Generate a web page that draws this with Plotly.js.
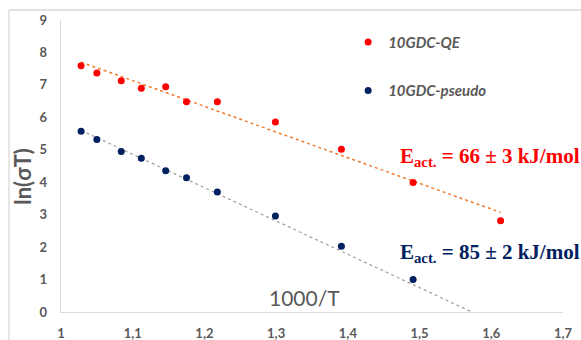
<!DOCTYPE html>
<html>
<head>
<meta charset="utf-8">
<script src="https://cdn.plot.ly/plotly-3.0.1.min.js"></script>
<style>html,body{margin:0;padding:0;background:#fff;}#chart{width:581px;height:340px;}</style>
</head>
<body>
<div id="chart"></div>
<script>
// Data
const invT = [1.028, 1.050, 1.084, 1.112, 1.146, 1.175, 1.218, 1.299, 1.391, 1.491, 1.613];
const lnQE = [7.59, 7.37, 7.13, 6.90, 6.94, 6.48, 6.48, 5.86, 5.02, 3.99, 2.81];
const invTpseudo = [1.028, 1.050, 1.084, 1.112, 1.146, 1.175, 1.218, 1.299, 1.391, 1.491];
const lnPseudo = [5.57, 5.32, 4.95, 4.74, 4.35, 4.14, 3.70, 2.96, 2.03, 1.00];
// Trendline end points
const trendQEx = [1.028, 1.613];
const trendQEy = [7.70, 3.07];
const trendPsx = [1.028, 1.573];
const trendPsy = [5.60, 0.0];
const seriesNames = ["10GDC-QE", "10GDC-pseudo"];
const xTicks = [1, 1.1, 1.2, 1.3, 1.4, 1.5, 1.6, 1.7];
const xTickText = ["1", "1,1", "1,2", "1,3", "1,4", "1,5", "1,6", "1,7"];
const yTicks = [0, 1, 2, 3, 4, 5, 6, 7, 8, 9];

const RED = "#FF0000", NAVY = "#002060", GREY = "#595959";

const traces = [
  {x: trendQEx, y: trendQEy, mode: "lines", line: {color: "#ED7D31", width: 1.5, dash: "dot"}, showlegend: false, hoverinfo: "skip"},
  {x: trendPsx, y: trendPsy, mode: "lines", line: {color: "#A5A5A5", width: 1.3, dash: "dot"}, showlegend: false, hoverinfo: "skip"},
  {x: invT, y: lnQE, mode: "markers", name: seriesNames[0], legendgroup: "a", marker: {color: RED, size: 7}},
  {x: invTpseudo, y: lnPseudo, mode: "markers", name: seriesNames[1], legendgroup: "b", marker: {color: NAVY, size: 7}}
];

const tickFont = {family: "Lato, 'Open Sans', sans-serif", size: 13, color: GREY, weight: 700};

const layout = {
  width: 581, height: 340,
  margin: {l: 61, r: 18, t: 20, b: 28},
  paper_bgcolor: "#fff", plot_bgcolor: "#fff",
  xaxis: {range: [1, 1.7], tickvals: xTicks, ticktext: xTickText, showgrid: false, zeroline: false,
          showline: true, linecolor: "#D9D9D9", linewidth: 1.3, ticks: "", tickfont: tickFont, ticklabelstandoff: 9},
  yaxis: {range: [0, 9], tickvals: yTicks, showgrid: false, zeroline: false,
          showline: true, linecolor: "#D9D9D9", linewidth: 1.3, ticks: "", tickfont: tickFont, ticklabelstandoff: 10},
  showlegend: true,
  legend: {x: 0.572, y: 0.98, xanchor: "left", yanchor: "top", tracegroupgap: 26, traceorder: "grouped",
           font: {family: "Lato, 'Open Sans', sans-serif", size: 15, color: GREY, style: "italic", weight: 700},
           bgcolor: "rgba(0,0,0,0)"},
  shapes: [
    {type: "line", xref: "paper", yref: "paper", x0: -0.1036, x1: 1.2, y0: 1.0342, y1: 1.0342, line: {color: "#D9D9D9", width: 1.3}},
    {type: "line", xref: "paper", yref: "paper", x0: -0.1036, x1: -0.1036, y0: 1.0342, y1: -0.2, line: {color: "#D9D9D9", width: 1.3}}
  ],
  annotations: [
    {text: "ln(σT)", xref: "paper", yref: "paper", x: -0.076, y: 0.466, xanchor: "center", yanchor: "middle",
     textangle: -90, showarrow: false,
     font: {family: "Lato, 'Open Sans', sans-serif", size: 22, color: GREY, weight: 700}},
    {text: "1000/T", xref: "paper", yref: "paper", x: 0.486, y: 0.051, xanchor: "center", yanchor: "middle", showarrow: false,
     font: {family: "Lato, 'Open Sans', sans-serif", size: 21, color: GREY}},
    {text: "<b>E<sub>act.</sub> = 66 ± 3 kJ/mol</b>", xref: "paper", yref: "paper", x: (398-61)/502, y: (312-157)/292,
     xanchor: "left", yanchor: "middle", showarrow: false,
     font: {family: "'Liberation Serif', 'Times New Roman', serif", size: 21, color: RED}},
    {text: "<b>E<sub>act.</sub> = 85 ± 2 kJ/mol</b>", xref: "paper", yref: "paper", x: (398-61)/502, y: (312-253)/292,
     xanchor: "left", yanchor: "middle", showarrow: false,
     font: {family: "'Liberation Serif', 'Times New Roman', serif", size: 21, color: NAVY}}
  ]
};

Plotly.newPlot("chart", traces, layout, {displayModeBar: false, staticPlot: true});
</script>
</body>
</html>
